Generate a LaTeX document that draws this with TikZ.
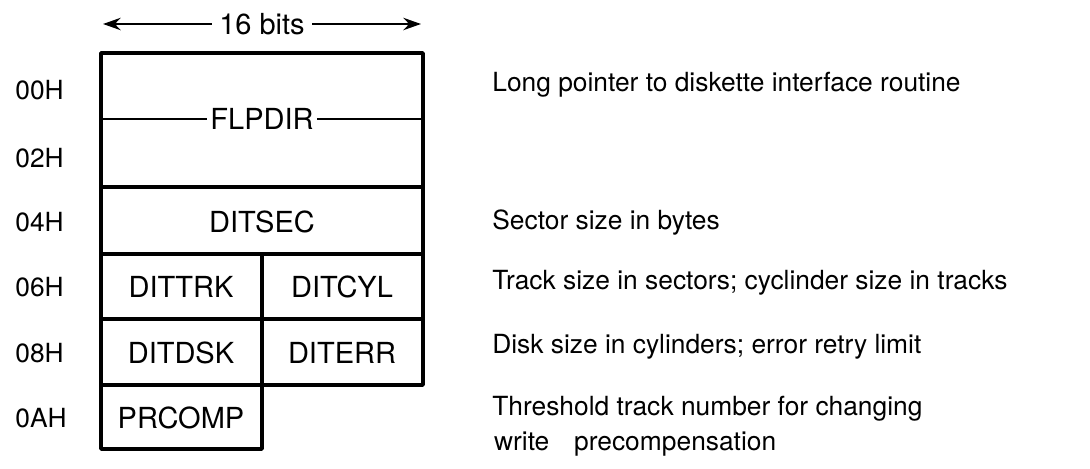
\documentclass[tikz,border=0pt]{standalone}
\usepackage{fontspec}
\setmainfont{TeX Gyre Heros}
\usetikzlibrary{arrows.meta}
\tikzset{
  field/.style={inner sep=2pt,font=\fontsize{16.5}{19}\selectfont},
  addr/.style={anchor=west,inner sep=0pt},
  descr/.style={anchor=west,inner sep=0pt,align=left}
}
\begin{document}
\begin{tikzpicture}[>={Stealth[length=10pt,width=7pt]},x=0.02cm,y=-0.02cm,font=\fontsize{15}{20}\selectfont]
		\useasboundingbox (0,0) rectangle (1090,469);
		% width arrow
		\node[field,inner sep=4pt] (bits) at (262,24) {16 bits};
		\coordinate (bl) at (103,24);
		\coordinate (br) at (421,24);
		\draw[->,line width=1.3pt] (bits) -- (bl);
		\draw[->,line width=1.3pt] (bits) -- (br);
		% the block
		\draw[line width=2pt,line join=round] (101,53) -- (423,53) -- (423,385) -- (262,385) -- (262,449) -- (101,449) -- cycle
		(101,187) -- (423,187) (101,254) -- (423,254) (101,319) -- (423,319) (101,385) -- (262,385)
		(262,254) -- (262,385);
		\node[field] (flpdir) at (262,119) {FLPDIR};
		\coordinate (fl) at (101,119);
		\coordinate (fr) at (423,119);
		\draw[line width=1.3pt] (fl) -- (flpdir) -- (fr);
		\node[field] (ditsec) at (262,222) {DITSEC};
		\node[field] (dittrk) at (181,287) {DITTRK};
		\node[field] (ditcyl) at (342,287) {DITCYL};
		\node[field] (ditdsk) at (181,353) {DITDSK};
		\node[field] (diterr) at (342,353) {DITERR};
		\node[field] (prcomp) at (181,418) {PRCOMP};
		% offsets
		\node[addr] (a00) at (15,90) {00H};
		\node[addr] (a02) at (15,158) {02H};
		\node[addr] (a04) at (15,222) {04H};
		\node[addr] (a06) at (15,287) {06H};
		\node[addr] (a08) at (15,353) {08H};
		\node[addr] (a0a) at (15,418) {0AH};
		% descriptions
		\node[descr] (d00) at (492,85) {Long pointer to diskette interface routine};
		\node[descr] (d04) at (492,223) {Sector size in bytes};
		\node[descr] (d06) at (492,283) {Track size in sectors; cyclinder size in tracks};
		\node[descr] (d08) at (492,347) {Disk size in cylinders; error retry limit};
		\node[descr] (d0a) at (492,426) {Threshold track number for changing\\ \hspace{1pt}write\hspace{10pt} precompensation};
	\end{tikzpicture}
\end{document}
